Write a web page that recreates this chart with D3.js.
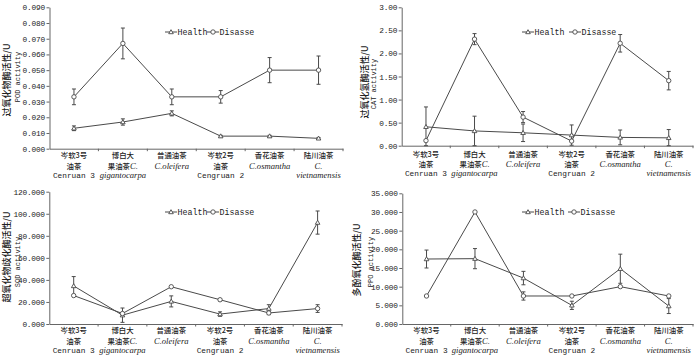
<!DOCTYPE html>
<html><head><meta charset="utf-8">
<script src="https://cdn.jsdelivr.net/npm/d3@7"></script>
<style>
body{margin:0;background:#fff;}
svg{display:block;}
.cjk{font-family:"Noto Sans CJK SC",sans-serif;}
.mono{font-family:"Liberation Mono",monospace;}
.ital{font-family:"Liberation Serif",serif;font-style:italic;}
</style></head>
<body>
<svg id="c" width="700" height="360"></svg>
<script>
const categories = ["Cenruan3","gigantocarpa","oleifera","Cengruan2","osmantha","vietnamensis"];
const catLine1 = ["岑软3号","博白大","普通油茶","岑软2号","香花油茶","陆川油茶"];
const catLine2 = [["油茶",""],["果油茶","C."],["","C.oleifera"],["油茶",""],["","C.osmantha"],["","C."]];
const catLine3 = [["Cenruan 3","mono"],["gigantocarpa","ital"],["",""],["Cengruan 2","mono"],["",""],["vietnamensis","ital"]];
const seriesNames = ["Health","Disasse"];

const podHealth = [0.013,0.017,0.0225,0.008,0.008,0.0066];
const podHealthErr = [0.0015,0.002,0.0016,0.0005,0.0005,0.0005];
const podDisease = [0.033,0.067,0.033,0.033,0.050,0.050];
const podDiseaseErr = [0.005,0.0098,0.005,0.004,0.008,0.009];

const catHealth = [0.41,0.32,0.28,0.23,0.18,0.17];
const catHealthErr = [0.43,0.32,0.19,0.22,0.16,0.18];
const catDisease = [0.11,2.31,0.62,0.10,2.22,1.41];
const catDiseaseErr = [0,0.12,0.12,0,0.19,0.20];

const sodHealth = [34.5,8.0,20.5,9.0,14.0,92.0];
const sodHealthErr = [8.5,6.5,5.0,2.0,3.5,10.5];
const sodDisease = [25.8,9.5,33.8,22.0,10.0,14.0];
const sodDiseaseErr = [0,0,0,1.0,1.5,3.5];

const ppoHealth = [17.4,17.5,12.3,5.0,14.8,4.8];
const ppoHealthErr = [2.4,2.7,1.8,1.1,3.9,2.0];
const ppoDisease = [7.5,30.0,7.5,7.5,10.0,7.5];
const ppoDiseaseErr = [0,0,1.1,0,0,0];

const podTicks = [0,0.01,0.02,0.03,0.04,0.05,0.06,0.07,0.08,0.09];
const catTicks = [0,0.5,1.0,1.5,2.0,2.5,3.0];
const sodTicks = [0,20,40,60,80,100,120];
const ppoTicks = [0,5,10,15,20,25,30,35];

const yTitlesCn = ["过氧化物酶活性/U","过氧化氢酶活性/U","超氧化物歧化酶活性/U","多酚氧化酶活性/U"];
const yTitlesEn = ["POD activity","CAT activity","SOD activity","PPO activity"];

const panels = [
  {health:podHealth,hErr:podHealthErr,dis:podDisease,dErr:podDiseaseErr,ticks:podTicks,fmt:".3f",
   x0:49.5,x1:343,bot:148.7,top:7.3,lab:[155.6,166.2,174.8],tCn:[7,80],tEn:[17,77],leg:[165,32,207],ti:0},
  {health:catHealth,hErr:catHealthErr,dis:catDisease,dErr:catDiseaseErr,ticks:catTicks,fmt:".2f",
   x0:401.7,x1:693,bot:145.7,top:7.3,lab:[154,164.6,173.2],tCn:[365,82],tEn:[373,84],leg:[522,32,569],ti:1},
  {health:sodHealth,hErr:sodHealthErr,dis:sodDisease,dErr:sodDiseaseErr,ticks:sodTicks,fmt:".3f",
   x0:49.3,x1:342,bot:324,top:191.7,lab:[330.6,341.2,350.2],tCn:[7,257],tEn:[17,262],leg:[165,212,207],ti:2},
  {health:ppoHealth,hErr:ppoHealthErr,dis:ppoDisease,dErr:ppoDiseaseErr,ticks:ppoTicks,fmt:".3f",
   x0:402.3,x1:693,bot:324,top:193.3,lab:[330.6,341.2,350.2],tCn:[357,260],tEn:[370,262],leg:[522,212,568],ti:3}
];

const svg = d3.select("#c");
const axisCol = "#666", lineCol = "#4a4a4a";

function triangle(g,x,y){
  g.append("path").attr("d",`M${x},${y-2.3}L${x+2.3},${y+1.7}L${x-2.3},${y+1.7}Z`)
   .attr("fill","#fff").attr("stroke",lineCol).attr("stroke-width",0.9);
}
function circ(g,x,y){
  g.append("circle").attr("cx",x).attr("cy",y).attr("r",2.2)
   .attr("fill","#fff").attr("stroke",lineCol).attr("stroke-width",0.9);
}

panels.forEach(p=>{
  const g = svg.append("g");
  const xb = d3.scaleBand().domain(categories).range([p.x0,p.x1]);
  const x = d => xb(d)+xb.bandwidth()/2;
  const y = d3.scaleLinear().domain([p.ticks[0],p.ticks[p.ticks.length-1]]).range([p.bot,p.top]);

  // y axis
  const ya = g.append("g").attr("transform",`translate(${p.x0},0)`)
    .call(d3.axisLeft(y).tickValues(p.ticks).tickFormat(d3.format(p.fmt)).tickSize(3).tickSizeOuter(0));
  ya.select(".domain").attr("stroke",axisCol);
  ya.selectAll(".tick line").attr("stroke",axisCol);
  ya.selectAll("text").attr("class","mono").attr("font-size",7.8).attr("fill","#222").attr("x",-4.5).attr("letter-spacing",-0.2);

  // x axis
  const xa = g.append("g").attr("transform",`translate(0,${p.bot})`)
    .call(d3.axisBottom(xb).tickSize(0).tickSizeOuter(0).tickFormat(""));
  xa.select(".domain").attr("stroke",axisCol);
  const bounds = categories.map(c=>xb(c)).concat([p.x1]);
  g.selectAll(".bt").data(bounds.slice(1)).enter().append("line")
    .attr("x1",d=>d).attr("x2",d=>d).attr("y1",p.bot).attr("y2",p.bot+2.5).attr("stroke",axisCol);

  // category labels
  categories.forEach((c,i)=>{
    const cx = x(c);
    g.append("text").attr("class","cjk").attr("font-weight",500).attr("text-anchor","middle").attr("fill","#222")
      .attr("font-size",7.4).attr("x",cx).attr("y",p.lab[0]+2.8).text(catLine1[i]);
    const t2 = g.append("text").attr("text-anchor","middle").attr("fill","#222").attr("font-size",7.4)
      .attr("x",cx).attr("y",p.lab[1]+2.8);
    if(catLine2[i][0]) t2.append("tspan").attr("class","cjk").attr("font-weight",500).text(catLine2[i][0]);
    if(catLine2[i][1]) t2.append("tspan").attr("class","ital").attr("font-size",8.6).text(catLine2[i][1]);
    if(catLine3[i][0]) g.append("text").attr("class",catLine3[i][1]).attr("text-anchor","middle").attr("fill","#222")
      .attr("x",cx).attr("y",p.lab[2]+3)
      .attr("font-size",catLine3[i][1]==="mono"?7.8:8.6).text(catLine3[i][0]);
  });

  // y titles
  g.append("text").attr("class","cjk").attr("transform",`translate(${p.tCn[0]+3},${p.tCn[1]}) rotate(-90)`)
    .attr("text-anchor","middle").attr("font-size",9).attr("font-weight",500).attr("fill","#222").text(yTitlesCn[p.ti]);
  g.append("text").attr("class","mono").attr("transform",`translate(${p.tEn[0]+2.5},${p.tEn[1]}) rotate(-90)`)
    .attr("text-anchor","middle").attr("font-size",7).attr("fill","#222").text(yTitlesEn[p.ti]);

  // series
  const series = [
    {v:p.health,e:p.hErr,m:triangle},
    {v:p.dis,e:p.dErr,m:circ}
  ];
  const line = d3.line().x((d,i)=>x(categories[i])).y(d=>y(d));
  series.forEach(s=>{
    g.append("path").datum(s.v).attr("d",line).attr("fill","none").attr("stroke",lineCol).attr("stroke-width",1);
  });
  series.forEach(s=>{
    s.v.forEach((v,i)=>{
      const e = s.e[i]; if(!e) return;
      const cx = x(categories[i]);
      const lo = y(Math.max(v-e,0)), hi = y(v+e);
      g.append("line").attr("x1",cx).attr("x2",cx).attr("y1",lo).attr("y2",hi).attr("stroke",lineCol).attr("stroke-width",1);
      [lo,hi].forEach(yy=>g.append("line").attr("x1",cx-2).attr("x2",cx+2).attr("y1",yy).attr("y2",yy).attr("stroke",lineCol).attr("stroke-width",1));
    });
  });
  series.forEach(s=>{
    s.v.forEach((v,i)=>s.m(g,x(categories[i]),y(v)));
  });

  // legend
  const [lx,ly,lx2] = [p.leg[0],p.leg[1],p.leg[2]];
  [[lx,triangle,seriesNames[0]],[lx2,circ,seriesNames[1]]].forEach(([sx,mk,name])=>{
    g.append("line").attr("x1",sx).attr("x2",sx+12).attr("y1",ly).attr("y2",ly).attr("stroke",lineCol).attr("stroke-width",1);
    mk(g,sx+6,ly);
    g.append("text").attr("class","mono").attr("x",sx+12.5).attr("y",ly+3).attr("font-size",8.3).attr("fill","#222").text(name);
  });
});
</script>
</body></html>
